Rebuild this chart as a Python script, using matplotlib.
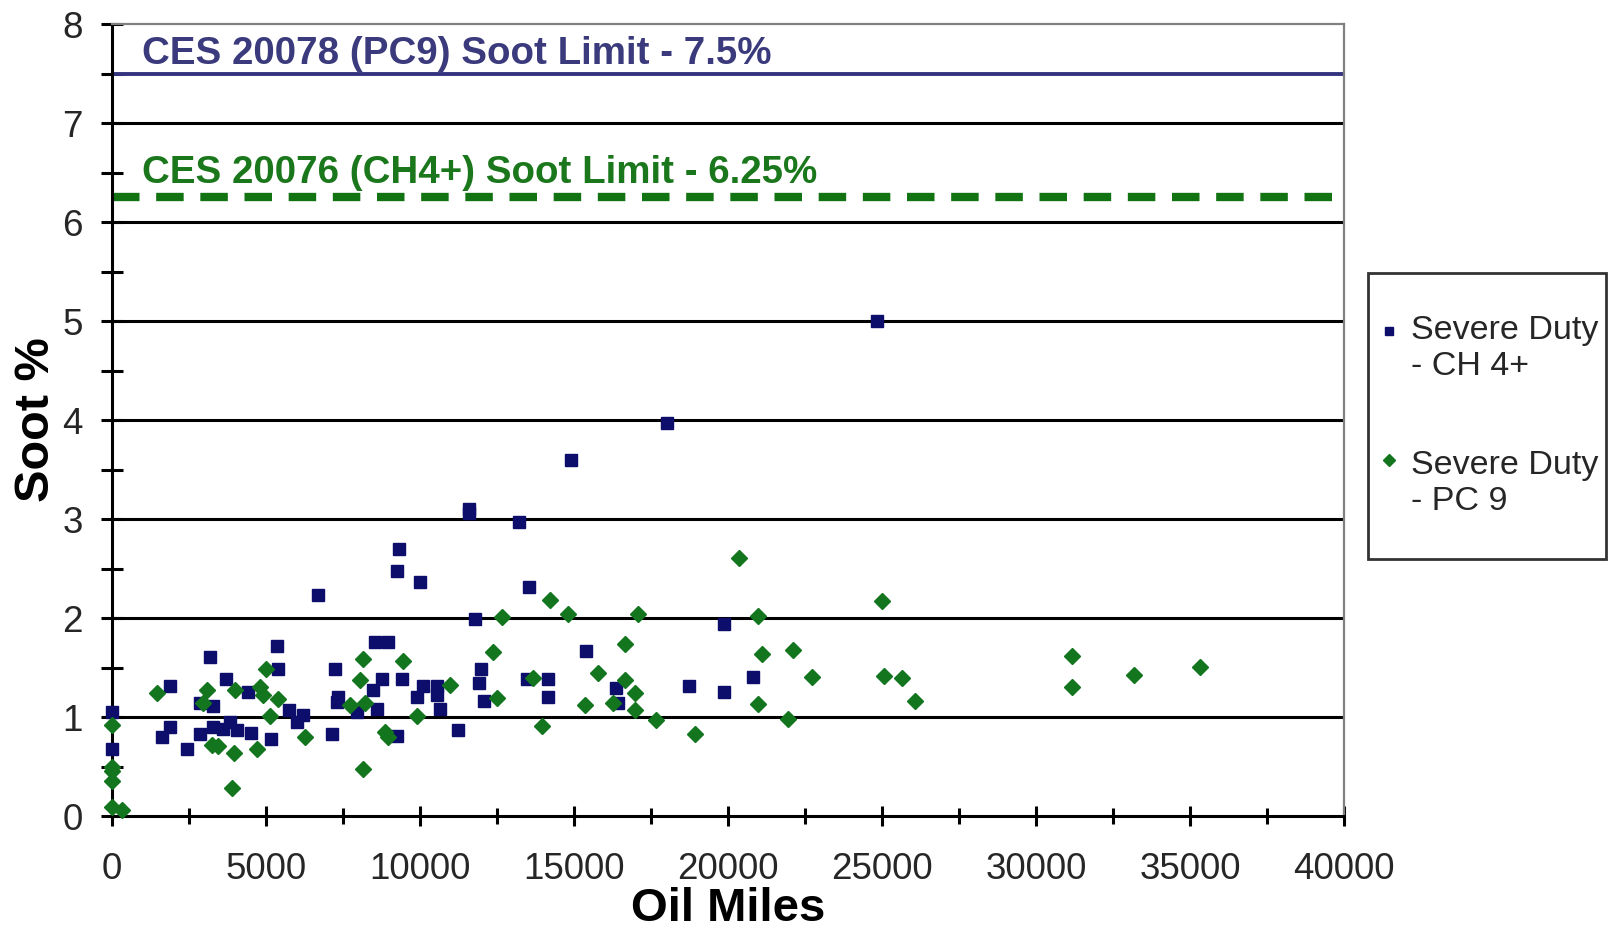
import matplotlib
matplotlib.use("Agg")
import matplotlib.pyplot as plt
from matplotlib.ticker import MultipleLocator

# Severe Duty - CH 4+ (blue squares)
ch4_miles = [0, 0, 1613, 1883, 1883, 2425, 2857, 2857, 3182, 3290, 3290, 3615,
             3701, 3831, 4048, 4426, 4513, 5162, 5346, 5400, 5757, 5996, 6212,
             6678, 7153, 7240, 7295, 7348, 7944, 8484, 8550, 8594, 8756, 8950,
             9242, 9242, 9328, 9405, 9912, 10000, 10107, 10542, 10542, 10649,
             11244, 11601, 11600, 11786, 11926, 11970, 12078, 13214, 13464,
             13539, 14146, 14146, 14892, 15380, 16364, 16440, 18029, 18744,
             19880, 19880, 20821, 24847]
ch4_soot = [1.05, 0.68, 0.80, 0.90, 1.31, 0.68, 0.83, 1.14, 1.61, 0.90, 1.11, 0.88,
            1.38, 0.95, 0.87, 1.25, 0.84, 0.78, 1.72, 1.49, 1.07, 0.95, 1.02,
            2.23, 0.83, 1.49, 1.15, 1.20, 1.05, 1.27, 1.76, 1.085, 1.38, 1.76,
            0.81, 2.47, 2.70, 1.38, 1.20, 2.36, 1.31, 1.31, 1.22, 1.085,
            0.87, 3.10, 3.06, 1.99, 1.34, 1.49, 1.16, 2.97, 1.38,
            2.31, 1.38, 1.20, 3.60, 1.67, 1.29, 1.14, 3.97, 1.31,
            1.94, 1.25, 1.40, 5.00]

# Severe Duty - PC 9 (green diamonds)
pc9_miles = [0, 0, 0, 0, 0, 336, 1450, 2965, 3074, 3236, 3453, 3885, 3961, 3994,
             4697, 4805, 4913, 5000, 5130, 5379, 6266, 7727, 8052, 8139, 8160,
             8214, 8864, 8971, 9437, 9892, 10974, 12380, 12490, 12652, 13679,
             13971, 14221, 14816, 15357, 15789, 16276, 16656, 16656, 16981,
             16981, 17088, 17652, 18929, 20357, 20963, 20984, 21094, 21958,
             22100, 22717, 24990, 25075, 25640, 26071, 31179, 31179, 33182, 35325]
pc9_soot = [0.92, 0.50, 0.45, 0.35, 0.09, 0.065, 1.24, 1.14, 1.27, 0.72, 0.71, 0.28, 0.64, 1.27,
            0.68, 1.30, 1.22, 1.49, 1.01, 1.18, 0.80, 1.12, 1.37, 0.48, 1.59,
            1.14, 0.85, 0.80, 1.57, 1.01, 1.32, 1.66, 1.19, 2.01, 1.39,
            0.91, 2.18, 2.045, 1.12, 1.445, 1.14, 1.74, 1.37, 1.24,
            1.07, 2.045, 0.97, 0.83, 2.61, 1.13, 2.02, 1.64, 0.98,
            1.68, 1.40, 2.17, 1.41, 1.39, 1.16, 1.62, 1.30, 1.42, 1.51]

pc9_limit = 7.5
ch4_limit = 6.25
pc9_text = "CES 20078 (PC9) Soot Limit - 7.5%"
ch4_text = "CES 20076 (CH4+) Soot Limit - 6.25%"

plt.rcParams['font.family'] = ['Liberation Sans', 'DejaVu Sans']

navy = '#0d0d6b'
green = '#13761f'

fig = plt.figure(figsize=(16.13, 9.34), dpi=100)
ax = fig.add_axes([0.0694, 0.1263, 0.7639, 0.848])

ax.set_xlim(0, 40000)
ax.set_ylim(0, 8)

for y in range(1, 8):
    ax.axhline(y, color='black', lw=2.2, zorder=1)

ax.axhline(pc9_limit, color='#34347e', lw=2.8, zorder=2)
ax.axhline(ch4_limit, color='#127312', lw=6, dashes=(3.3, 2.0), zorder=2)

ax.text(980, 7.60, pc9_text, color='#3a3a7c', fontsize=27.7, fontweight='bold',
        va='baseline', ha='left')
ax.text(980, 6.39, ch4_text, color='#1b771b', fontsize=27.7, fontweight='bold',
        va='baseline', ha='left')

# blank first/last lines pad the legend box top and bottom
ax.plot(ch4_miles, ch4_soot, ls='none', marker='s', ms=8.5, color=navy,
        mec=navy, label='\nSevere Duty\n- CH 4+', clip_on=False, zorder=4)
ax.plot(pc9_miles, pc9_soot, ls='none', marker='D', ms=8.5, color=green,
        mec=green, label='Severe Duty\n- PC 9\n', clip_on=False, zorder=4)

ax.xaxis.set_major_locator(MultipleLocator(5000))
ax.xaxis.set_minor_locator(MultipleLocator(2500))
ax.yaxis.set_major_locator(MultipleLocator(1))
ax.yaxis.set_minor_locator(MultipleLocator(0.5))
ax.tick_params(axis='both', which='both', direction='inout', width=2.2,
               color='black', labelsize=26.5, labelcolor='#262626')
ax.tick_params(axis='x', which='major', length=14, pad=19)
ax.tick_params(axis='x', which='minor', length=12)
ax.tick_params(axis='y', which='both', length=16, pad=13)
ax.tick_params(top=False, right=False)

for side in ['left', 'bottom']:
    ax.spines[side].set_color('black')
    ax.spines[side].set_linewidth(2.2)
for side in ['top', 'right']:
    ax.spines[side].set_color('#808080')
    ax.spines[side].set_linewidth(1.6)

ax.set_xlabel('Oil Miles', fontsize=34, fontweight='bold', labelpad=0)
ax.set_ylabel('Soot %', fontsize=35, fontweight='bold', labelpad=2)

leg = ax.legend(loc='center left', bbox_to_anchor=(1.0195, 0.505), fontsize=24.5,
                frameon=True, fancybox=False, edgecolor='black', borderpad=0.2,
                handlelength=0.8, handletextpad=0.27, labelspacing=2.0,
                markerscale=0.75, borderaxespad=0)
leg.get_frame().set_linewidth(2)
for t in leg.get_texts():
    t.set_color('#262626')
    t.set_linespacing(1.2)
# second marker sits level with the first line of its label
h = leg.legend_handles[1]
h.set_ydata([v + 30 for v in h.get_ydata()])

fig.savefig('out.png', dpi=100)
